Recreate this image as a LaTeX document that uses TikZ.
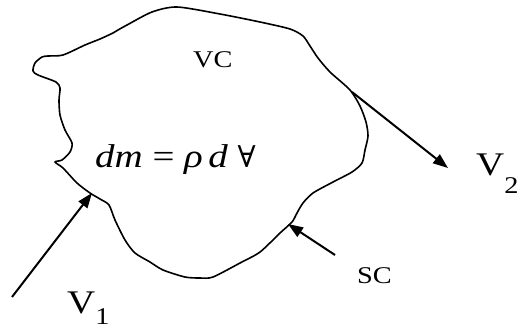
\documentclass[tikz,border=0pt]{standalone}
\usepackage{fontspec}
\setmainfont[FakeStretch=1.18]{Liberation Serif}
\newfontfamily\symfont{DejaVu Serif}
\usepackage{tikz}
\usetikzlibrary{arrows.meta}

\begin{document}
\begin{tikzpicture}[
    x=1pt, y=-1pt,
    outline/.style={line width=1.6pt, line join=round},
    arrow/.style={line width=2pt, -{Triangle[length=15pt,width=11pt]}},
    lbl/.style={anchor=base west, inner sep=0pt, font=\fontsize{24}{24}\selectfont},
    biglbl/.style={anchor=base west, inner sep=0pt, font=\fontsize{33}{33}\selectfont}
]
\useasboundingbox (0,0) rectangle (519,330);

% Control volume outline
\draw[outline] plot[smooth cycle, tension=0.45] coordinates {
    (48,56) (63,55) (85,45) (100,39) (113,33) (118,30) (127,25) (152,12) (177,7)
    (220,14) (260,22) (290,29) (303,36) (310,46) (318,58) (330,72) (350,90)
    (360,106) (366,122) (368,136) (365,150) (362,163) (352,172) (333,182)
    (313,193) (303,203) (297,213) (292,222) (280,233) (260,252) (240,263)
    (213,277) (200,278) (185,277) (163,270) (150,262) (135,253) (125,240)
    (115,220) (109,205) (100,199) (90,193) (77,183) (63,168) (55,162)
    (62,160) (70,152) (72,143) (65,130) (60,115) (59,100) (60,88) (56,82)
    (38,75) (33,71) (35,63) (42,57)};

% Labels
\node (vc) [lbl] at (193,67) {VC};
\node (dm) [biglbl] at (95,167)
    {\itshape dm\/ \upshape= \itshape ρ\,d\/ {\upshape\symfont\fontsize{30}{30}\selectfont ∀}};
\node (v1) [biglbl] at (67,313) {V\raisebox{-11pt}{\fontsize{24}{24}\selectfont 1}};
\node (v2) [biglbl] at (476,175) {V\raisebox{-18pt}{\fontsize{24}{24}\selectfont 2}};
\node (sc) [lbl] at (357,283) {SC};

% Arrows
\coordinate (v1tail) at (12,297);
\coordinate (v1tip) at (92,193);
\coordinate (v2tail) at (352,92);
\coordinate (v2tip) at (448,168);
\coordinate (sctail) at (335,255);
\coordinate (sctip) at (288,224);

\draw[arrow] (v1tail) -- (v1tip);
\draw[arrow] (v2tail) -- (v2tip);
\draw[arrow] (sctail) -- (sctip);

\end{tikzpicture}
\end{document}
